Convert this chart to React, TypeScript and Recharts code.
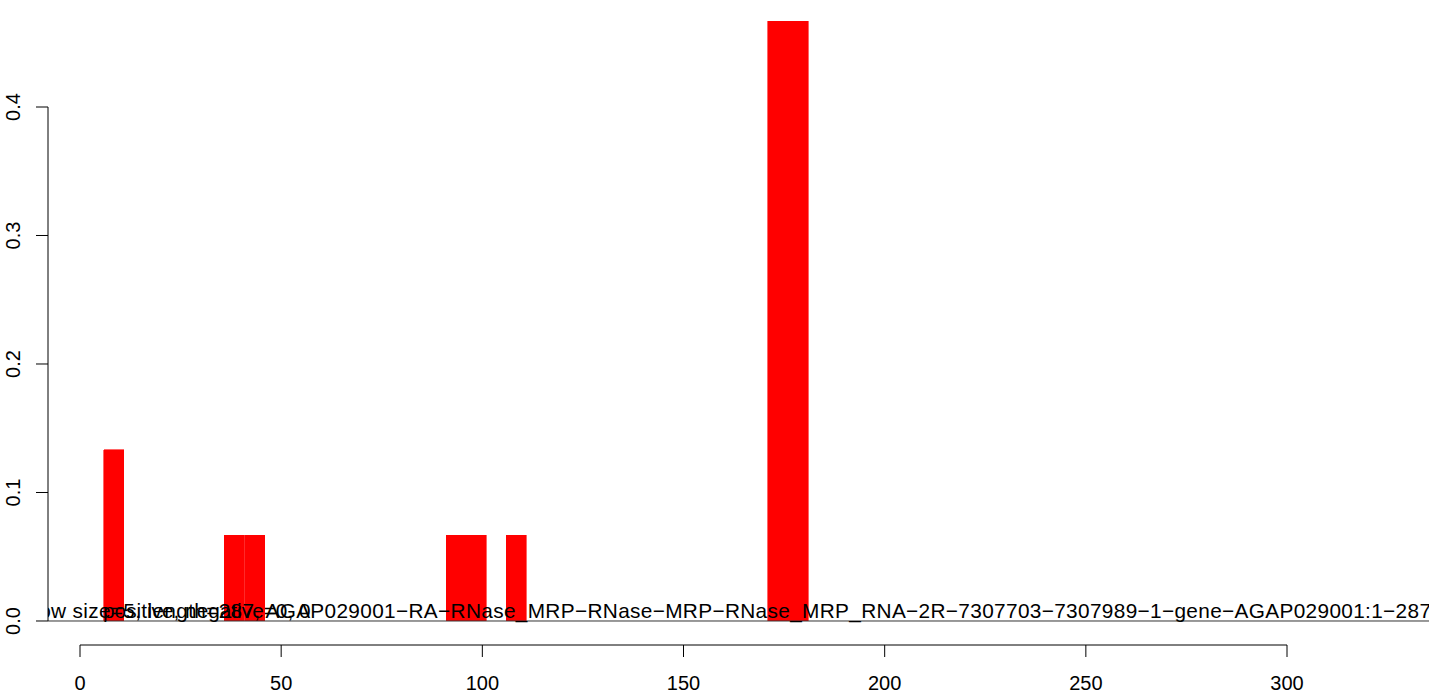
import { BarChart, Bar, XAxis, YAxis, ReferenceLine } from "recharts";

// window centres (x units) and fraction of reads per window
const windowCenters = [8.4, 38.4, 43.4, 93.5, 98.5, 108.5, 173.5, 178.5];
const fractions = [0.1333, 0.0667, 0.0667, 0.0667, 0.0667, 0.0667, 0.4667, 0.4667];

const xTicks = [0, 50, 100, 150, 200, 250, 300];
const yTicks = [0, 0.1, 0.2, 0.3, 0.4];
const yTickLabels = ["0.0", "0.1", "0.2", "0.3", "0.4"];

const noteA =
  "window size=5, length=287, AGAP029001\u2212RA\u2212RNase_MRP\u2212RNase\u2212MRP\u2212RNase_MRP_RNA\u22122R\u22127307703\u22127307989\u22121\u2212gene\u2212AGAP029001:1\u2212287";
const noteB = "positive, negative=0, 0";

const X_DOMAIN: [number, number] = [-7.954, 335.29];
const Y_DOMAIN: [number, number] = [-0.01868, 0.48327];

const FONT = "'Liberation Sans', Arial, Helvetica, sans-serif";

const data = windowCenters.map((x, i) => ({ x, value: fractions[i] }));

function YTick(props: any) {
  const { x, y, index } = props;
  const bx = x - 14;
  return (
    <text
      x={bx}
      y={y}
      transform={`rotate(-90, ${bx}, ${y})`}
      textAnchor="middle"
      fontSize={20}
      fontFamily={FONT}
      fill="#000"
    >
      {yTickLabels[index]}
    </text>
  );
}

function XTick(props: any) {
  const { x, y, payload } = props;
  return (
    <text x={x} y={y + 31} textAnchor="middle" fontSize={20} fontFamily={FONT} fill="#000">
      {payload.value}
    </text>
  );
}

// the two overlapping annotation strings, clipped to the plot region
function OverlapLabel(props: any) {
  const vb = props.viewBox || {};
  const left = vb.x ?? 48;
  const right = left + (vb.width ?? 1381);
  const y = vb.y ?? 621;
  return (
    <g>
      <defs>
        <clipPath id="noteClip">
          <rect x={left} y={0} width={right - left} height={700} />
        </clipPath>
      </defs>
      <g clipPath="url(#noteClip)" fontFamily={FONT} fontSize={20.8} fill="#000">
        <text x={left - 53} y={y - 3} textLength={right - left + 55} lengthAdjust="spacing">
          {noteA}
        </text>
        <text x={left + 55} y={y - 3} textAnchor="start">
          {noteB}
        </text>
      </g>
    </g>
  );
}

export default function App() {
  return (
    <div style={{ position: "absolute", left: 0, top: 0, background: "#fff" }}>
      <BarChart
        width={1429}
        height={695}
        data={data}
        margin={{ top: 0, right: 0, bottom: 0, left: 0 }}
        barCategoryGap={0}
        barGap={0}
      >
        <XAxis
          dataKey="x"
          type="number"
          domain={X_DOMAIN}
          allowDataOverflow
          ticks={xTicks}
          interval={0}
          height={50}
          axisLine={false}
          tickSize={12}
          stroke="#000"
          tick={<XTick />}
        />
        <YAxis
          type="number"
          domain={Y_DOMAIN}
          allowDataOverflow
          ticks={yTicks}
          interval={0}
          width={48}
          axisLine={false}
          tickSize={12}
          stroke="#000"
          tick={<YTick />}
        />
        <Bar
          dataKey="value"
          fill="#FF0000"
          stroke="#FF0000"
          strokeWidth={0.6}
          shapeRendering="crispEdges"
          isAnimationActive={false}
        />
        <ReferenceLine y={0} stroke="#333" strokeWidth={1} label={<OverlapLabel />} />
        <ReferenceLine
          segment={[
            { x: X_DOMAIN[0], y: 0 },
            { x: X_DOMAIN[0], y: 0.4 },
          ]}
          stroke="#000"
          strokeWidth={1}
          ifOverflow="visible"
        />
        <ReferenceLine
          segment={[
            { x: 0, y: Y_DOMAIN[0] },
            { x: 300, y: Y_DOMAIN[0] },
          ]}
          stroke="#000"
          strokeWidth={1}
          ifOverflow="visible"
        />
      </BarChart>
    </div>
  );
}
